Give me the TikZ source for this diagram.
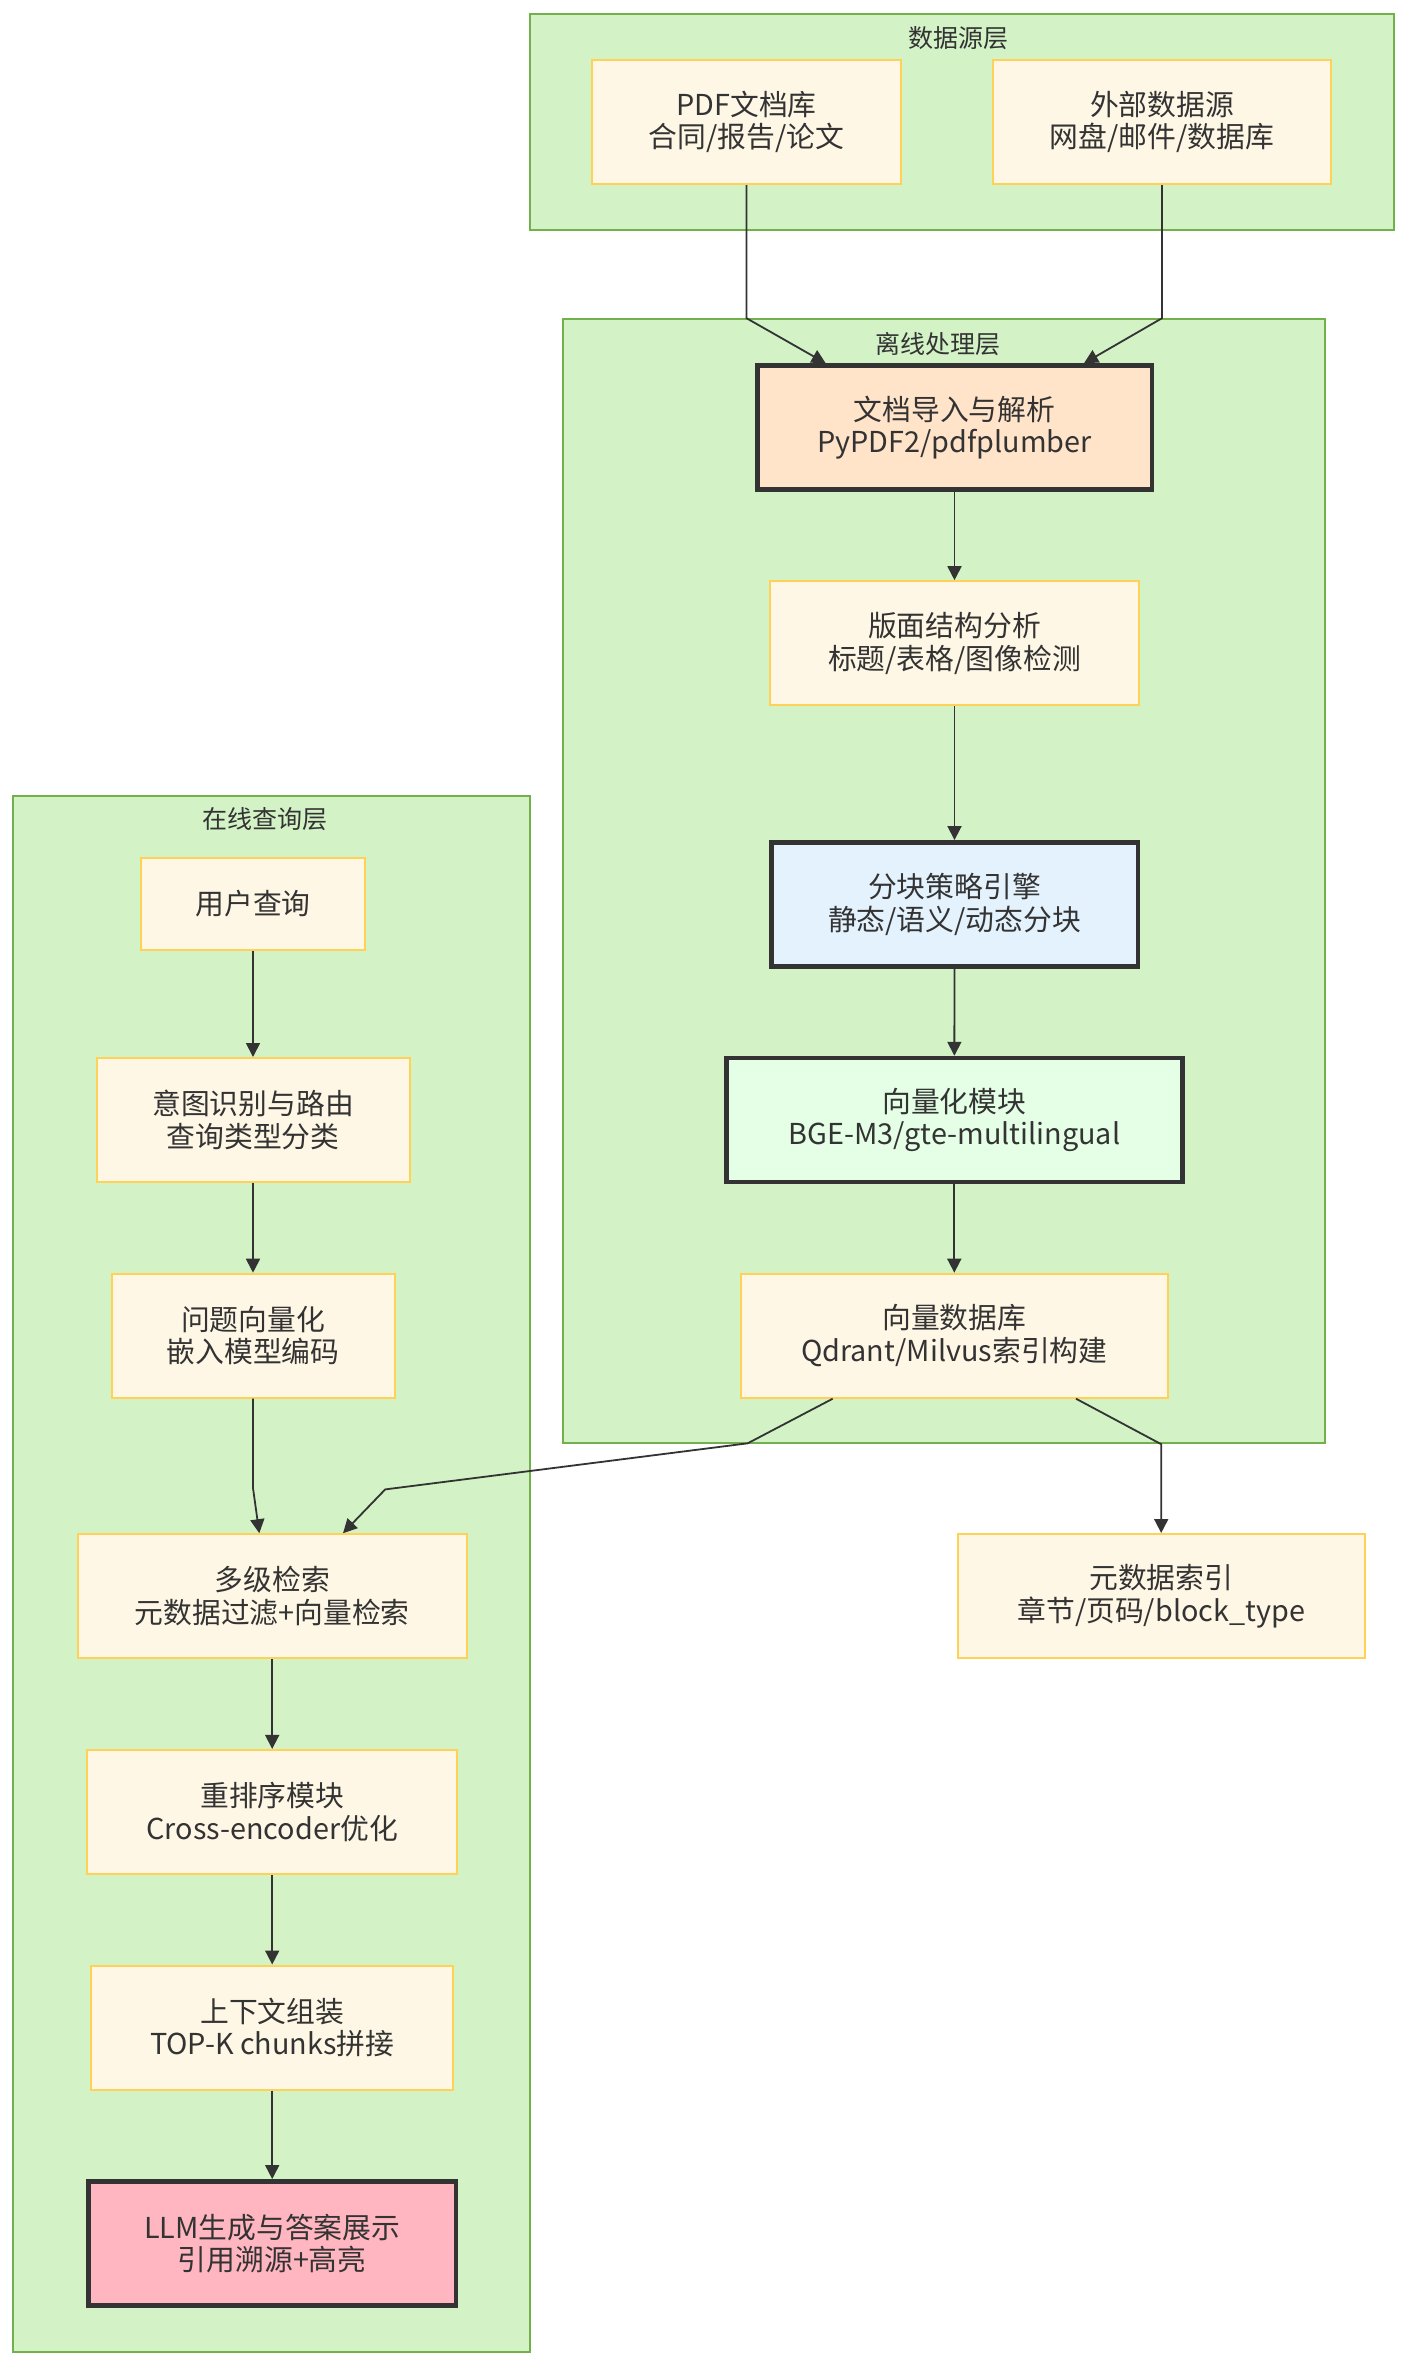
\documentclass[tikz,border=0pt]{standalone}
\usepackage{fontspec}
\setmainfont{Noto Sans CJK SC}
\usetikzlibrary{arrows.meta, positioning}
\definecolor{layerfill}{HTML}{D3F2C6}
\definecolor{layerline}{HTML}{72B04B}
\definecolor{boxfill}{HTML}{FFF7E6}
\definecolor{boxline}{HTML}{FFD257}
\definecolor{darkline}{HTML}{333333}
\definecolor{importfill}{HTML}{FFE4CA}
\definecolor{chunkfill}{HTML}{E3F2FD}
\definecolor{embedfill}{HTML}{E4FFE6}
\definecolor{llmfill}{HTML}{FFB6C1}
\tikzset{
>={Triangle[length=14pt,width=14pt]}, % filled arrow heads
layer/.style={draw=layerline, fill=layerfill, line width=2pt}, % the three green layers
layertitle/.style={text=darkline, font=\fontsize{25}{30}\selectfont},
box/.style={draw=boxline, fill=boxfill, line width=2pt, align=center, text=darkline,
  font=\fontsize{28.8}{32.5}\selectfont, inner xsep=0pt, minimum height=124pt},
keybox/.style={box, draw=darkline, line width=4.5pt}, % highlighted steps
flow/.style={->, draw=darkline, line width=1.8pt},
}

\begin{document}
\begin{tikzpicture}[x=1pt, y=-1pt]
\useasboundingbox (0,0) rectangle (1408,2366);
\fill[white] (0,0) rectangle (1408,2366);
% layers
\node[layer, minimum width=864pt, minimum height=216pt] (srclayer) at (962,122) {};
\node[layertitle] (srctitle) at (958,38) {数据源层};
\node[layer, minimum width=762pt, minimum height=1124pt] (offlayer) at (944.4,881.2) {};
\node[layertitle] (offtitle) at (938,344) {离线处理层};
\node[layer, minimum width=517pt, minimum height=1556pt] (onlayer) at (271.7,1573.8) {};
\node[layertitle] (ontitle) at (265,819) {在线查询层};
% data sources
\node[box, minimum width=309pt] (pdf) at (746.5,122) {PDF文档库\\合同/报告/论文};
\node[box, minimum width=338pt] (ext) at (1162,122) {外部数据源\\网盘/邮件/数据库};
% offline processing
\node[keybox, fill=importfill, minimum width=394.5pt] (import) at (954.5,427.5) {文档导入与解析\\PyPDF2/pdfplumber};
\node[box, minimum width=369pt] (layout) at (954.5,643.2) {版面结构分析\\标题/表格/图像检测};
\node[keybox, fill=chunkfill, minimum width=366.5pt] (chunk) at (954.5,904.3) {分块策略引擎\\静态/语义/动态分块};
\node[keybox, fill=embedfill, minimum width=456pt] (embed) at (954.3,1120) {向量化模块\\BGE-M3/gte-multilingual};
\node[box, minimum width=427pt] (vdb) at (954.3,1335.7) {向量数据库\\Qdrant/Milvus索引构建};
\node[box, minimum width=407pt] (meta) at (1161.2,1596) {元数据索引\\章节/页码/block\_type};
% online query
\node[box, minimum width=224pt, minimum height=92pt] (query) at (253,904) {用户查询};
\node[box, minimum width=313pt] (intent) at (253,1120) {意图识别与路由\\查询类型分类};
\node[box, minimum width=283pt] (qvec) at (253,1335.7) {问题向量化\\嵌入模型编码};
\node[box, minimum width=389pt] (retr) at (272.2,1596.2) {多级检索\\元数据过滤+向量检索};
\node[box, minimum width=370pt] (rerank) at (272.2,1811.9) {重排序模块\\Cross-encoder优化};
\node[box, minimum width=362pt] (ctx) at (272.2,2027.5) {上下文组装\\TOP-K chunks拼接};
\node[keybox, fill=llmfill, minimum width=367.5pt] (llm) at (272.2,2243.3) {LLM生成与答案展示\\引用溯源+高亮};
% bend points
\coordinate (dbleft) at (747.7,1443.3);
\coordinate (dbmid) at (385.2,1489.4);
\coordinate (qbend) at (253,1488);
% edges
\draw[flow] (pdf.south) -- (pdf.south |- offlayer.north) -- ([xshift=-128.8pt]import.north);
\draw[flow] (ext.south) -- (ext.south |- offlayer.north) -- ([xshift=129.5pt]import.north);
\draw[flow] (import) -- (layout);
\draw[flow] (layout) -- (chunk);
\draw[flow] (chunk) -- (embed);
\draw[flow] (embed) -- (vdb);
\draw[flow] ([xshift=-121.6pt]vdb.south) -- (dbleft) -- (dbmid) -- ([xshift=70.8pt]retr.north);
\draw[flow] ([xshift=121.7pt]vdb.south) -- (meta.north |- offlayer.south) -- (meta.north);
\draw[flow] (query) -- (intent);
\draw[flow] (intent) -- (qvec);
\draw[flow] (qvec.south) -- (qbend) -- ([xshift=-12.9pt]retr.north);
\draw[flow] (retr) -- (rerank);
\draw[flow] (rerank) -- (ctx);
\draw[flow] (ctx) -- (llm);
\end{tikzpicture}
\end{document}
